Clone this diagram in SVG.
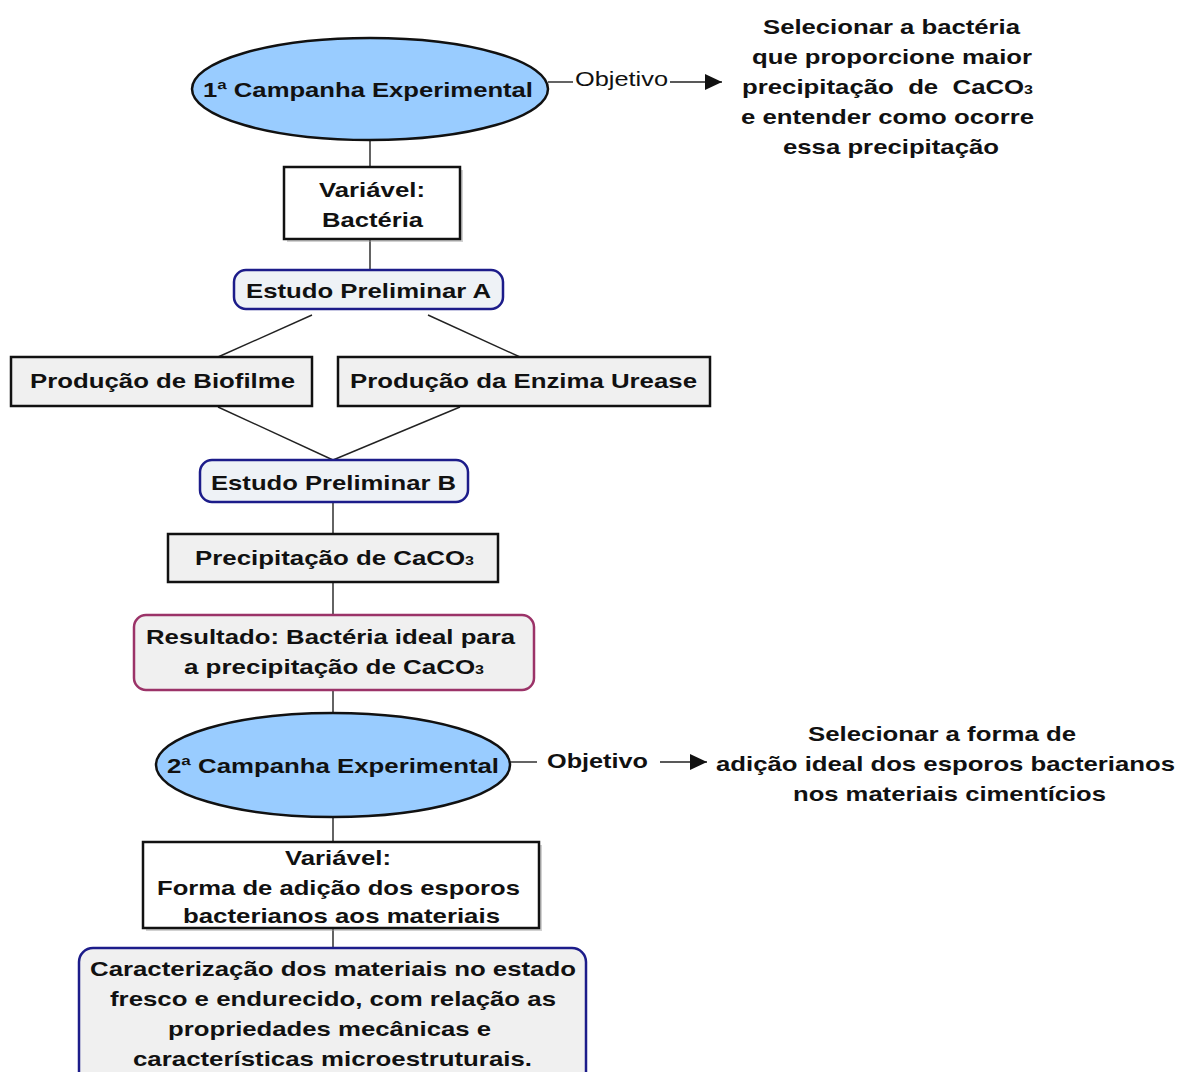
<svg xmlns="http://www.w3.org/2000/svg" width="1178" height="1072" viewBox="0 0 1178 1072">
<style>
text{font-family:"Liberation Sans",Arial,sans-serif;font-size:21px;font-weight:bold;fill:#111}
.n{font-weight:normal}
.sub{font-size:13px}
.ell{fill:#99ccff;stroke:#111;stroke-width:2.5}
.box{fill:#fff;stroke:#111;stroke-width:2.5}
.gbox{fill:#f0f0f0;stroke:#111;stroke-width:2.5}
.est{fill:#eef2f6;stroke:#1c1c8a;stroke-width:2.5}
.res{fill:#f0f0f0;stroke:#9b3368;stroke-width:2.5}
.sh{fill:#9a9a9a;opacity:.45}
.c line{stroke:#222;stroke-width:1.4}
</style>
<defs>
<marker id="ah" viewBox="0 0 10 10" refX="10" refY="5" markerWidth="17" markerHeight="16" markerUnits="userSpaceOnUse" orient="auto" preserveAspectRatio="none"><path d="M0,0L10,5L0,10z" fill="#111"/></marker>
</defs>
<g class="c">
<line x1="548" y1="82" x2="573" y2="82"/>
<line x1="670" y1="82" x2="722" y2="82" marker-end="url(#ah)"/>
<line x1="370" y1="140" x2="370" y2="167"/>
<line x1="370" y1="239" x2="370" y2="270"/>
<line x1="312" y1="315" x2="218" y2="357"/>
<line x1="428" y1="315" x2="520" y2="357"/>
<line x1="218" y1="407" x2="333" y2="460"/>
<line x1="460" y1="407" x2="333" y2="460"/>
<line x1="333" y1="502" x2="333" y2="534"/>
<line x1="333" y1="582" x2="333" y2="615"/>
<line x1="333" y1="690" x2="333" y2="713"/>
<line x1="510" y1="762" x2="537" y2="762"/>
<line x1="660" y1="762" x2="707" y2="762" marker-end="url(#ah)"/>
<line x1="333" y1="817" x2="333" y2="842"/>
<line x1="333" y1="928" x2="333" y2="948"/>
</g>
<g id="camp1">
<ellipse class="ell" cx="370" cy="89" rx="178" ry="51"/>
<text x="203" y="97" textLength="330" lengthAdjust="spacingAndGlyphs">1ª Campanha Experimental</text>
</g>
<g id="obj1">
<text class="n" x="575" y="86" textLength="93" lengthAdjust="spacingAndGlyphs">Objetivo</text>
</g>
<g id="objtext1">
<text x="763" y="34" textLength="257" lengthAdjust="spacingAndGlyphs">Selecionar a bactéria</text>
<text x="752" y="64" textLength="280" lengthAdjust="spacingAndGlyphs">que proporcione maior</text>
<text x="742" y="94" textLength="291" lengthAdjust="spacingAndGlyphs" xml:space="preserve">precipitação  de  CaCO<tspan class="sub">3</tspan></text>
<text x="741" y="124" textLength="293" lengthAdjust="spacingAndGlyphs">e entender como ocorre</text>
<text x="783" y="154" textLength="216" lengthAdjust="spacingAndGlyphs">essa precipitação</text>
</g>
<g id="var1">
<rect class="sh" x="287" y="170" width="176" height="72"/>
<rect class="box" x="284" y="167" width="176" height="72"/>
<text x="319" y="197" textLength="106" lengthAdjust="spacingAndGlyphs">Variável:</text>
<text x="322" y="227" textLength="101" lengthAdjust="spacingAndGlyphs">Bactéria</text>
</g>
<g id="estA">
<rect class="est" x="234" y="270" width="269" height="39" rx="12"/>
<text x="246" y="298" textLength="245" lengthAdjust="spacingAndGlyphs">Estudo Preliminar A</text>
</g>
<g id="bio">
<rect class="gbox" x="11" y="357" width="301" height="49"/>
<text x="30" y="388" textLength="265" lengthAdjust="spacingAndGlyphs">Produção de Biofilme</text>
</g>
<g id="ure">
<rect class="gbox" x="338" y="357" width="372" height="49"/>
<text x="350" y="388" textLength="347" lengthAdjust="spacingAndGlyphs">Produção da Enzima Urease</text>
</g>
<g id="estB">
<rect class="est" x="200" y="460" width="268" height="42" rx="12"/>
<text x="211" y="490" textLength="245" lengthAdjust="spacingAndGlyphs">Estudo Preliminar B</text>
</g>
<g id="prec">
<rect class="gbox" x="168" y="534" width="330" height="48"/>
<text x="195" y="565" textLength="279" lengthAdjust="spacingAndGlyphs">Precipitação de CaCO<tspan class="sub">3</tspan></text>
</g>
<g id="res">
<rect class="res" x="134" y="615" width="400" height="75" rx="12"/>
<text x="146" y="644" textLength="369" lengthAdjust="spacingAndGlyphs">Resultado: Bactéria ideal para</text>
<text x="184" y="674" textLength="300" lengthAdjust="spacingAndGlyphs">a precipitação de CaCO<tspan class="sub">3</tspan></text>
</g>
<g id="camp2">
<ellipse class="ell" cx="333" cy="765" rx="177" ry="52"/>
<text x="167" y="773" textLength="332" lengthAdjust="spacingAndGlyphs">2ª Campanha Experimental</text>
</g>
<g id="obj2">
<text x="547" y="768" textLength="101" lengthAdjust="spacingAndGlyphs">Objetivo</text>
</g>
<g id="objtext2">
<text x="808" y="741" textLength="268" lengthAdjust="spacingAndGlyphs">Selecionar a forma de</text>
<text x="716" y="771" textLength="459" lengthAdjust="spacingAndGlyphs">adição ideal dos esporos bacterianos</text>
<text x="793" y="801" textLength="313" lengthAdjust="spacingAndGlyphs">nos materiais cimentícios</text>
</g>
<g id="var2">
<rect class="sh" x="146" y="845" width="396" height="86"/>
<rect class="box" x="143" y="842" width="396" height="86"/>
<text x="285" y="865" textLength="106" lengthAdjust="spacingAndGlyphs">Variável:</text>
<text x="157" y="895" textLength="363" lengthAdjust="spacingAndGlyphs">Forma de adição dos esporos</text>
<text x="183" y="923" textLength="317" lengthAdjust="spacingAndGlyphs">bacterianos aos materiais</text>
</g>
<g id="carac">
<rect class="est" x="79" y="948" width="507" height="140" rx="14" style="fill:#f0f0f0"/>
<text x="90" y="976" textLength="486" lengthAdjust="spacingAndGlyphs">Caracterização dos materiais no estado</text>
<text x="110" y="1006" textLength="446" lengthAdjust="spacingAndGlyphs">fresco e endurecido, com relação as</text>
<text x="168" y="1036" textLength="323" lengthAdjust="spacingAndGlyphs">propriedades mecânicas e</text>
<text x="133" y="1066" textLength="399" lengthAdjust="spacingAndGlyphs">características microestruturais.</text>
</g>
</svg>
